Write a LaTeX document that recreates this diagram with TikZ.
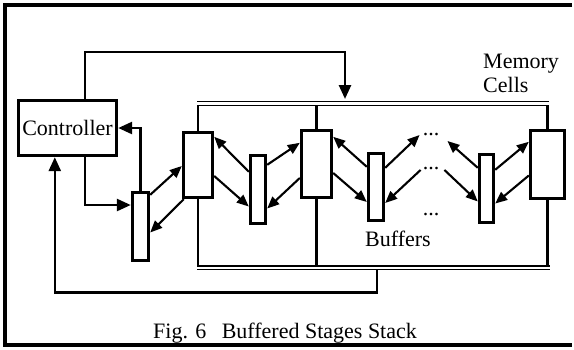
\documentclass[tikz,border=0pt]{standalone}
\usepackage{fontspec}
\setmainfont{Liberation Serif}
\usetikzlibrary{arrows.meta,calc}
\begin{document}
\begin{tikzpicture}[x=1bp,y=-1bp,
  box/.style={draw, line width=3.4bp, inner sep=0pt, fill=white},
  wire/.style={line width=2.6bp},
  arrbig/.style={wire, -{Triangle[length=14bp,width=12bp]}},
  arrsm/.style={line width=2.1bp, -{Triangle[length=12bp,width=10bp]}},
  bus/.style={double, double distance=2.2bp, line width=1.4bp},
  lbl/.style={font=\fontsize{22bp}{26bp}\selectfont, inner sep=0pt},
  frame/.style={line width=3.4bp}]
\useasboundingbox (0,0) rectangle (574,349);
% outer frame (top, left, bottom)
\draw[frame] (572,5) -- (5,5) -- (5,345) -- (572,345);
% boxes
\node[box, lbl, minimum width=98bp, minimum height=55bp] (ctrl) at (67.5,128) {Controller};
\node[box, minimum width=16bp, minimum height=68bp] (B1) at (140.5,226.5) {};
\node[box, minimum width=29bp, minimum height=65bp] (M1) at (198,165) {};
\node[box, minimum width=15bp, minimum height=68bp] (B2) at (258,189.5) {};
\node[box, minimum width=30bp, minimum height=67bp] (M2) at (316.5,164) {};
\node[box, minimum width=15bp, minimum height=67bp] (B3) at (376,187) {};
\node[box, minimum width=14bp, minimum height=68bp] (B4) at (486.5,188.5) {};
\node[box, minimum width=34bp, minimum height=68bp] (M3) at (547.5,164.5) {};
% dots
\node[lbl, anchor=base] (d1) at (431,135) {...};
\node[lbl, anchor=base] (d2) at (431,169) {...};
\node[lbl, anchor=base] (d3) at (431,215) {...};
% buses
\coordinate (busTL) at (197,103.5);
\coordinate (busTR) at (549,103.5);
\coordinate (busBL) at (197,267.75);
\coordinate (busBR) at (550,267.75);
\coordinate (busTin) at (0,105.5);
\coordinate (busBin) at (0,265.8);
\draw[bus] (busTL) -- (busTR);
\draw[bus] (busBL) -- (busBR);
\foreach \m in {M1,M2,M3}{
  \draw[wire] (\m.north) -- (\m.north |- busTin);
  \draw[wire] (\m.south) -- (\m.south |- busBin);
}
% controller connections
\coordinate (feed) at (345,99);
\draw[arrbig] ($(ctrl.north west)+(68,0)$) |- ($(feed)+(0,-47)$) -- (feed);
\draw[arrbig] ($(ctrl.south west)+(68,0)$) |- ($(B1.west)+(0,-21.5)$);
\draw[arrbig] (B1.north) |- (ctrl.east);
\coordinate (tap) at (377,269.8);
\draw[arrbig] (tap) -- ++(0,22.5) -| ($(ctrl.south west)+(38,0)$);
% buffer / cell arrows
\draw[arrsm] ($(B1.north east)+(0,4)$) -- ($(M1.west)+(0,1)$);
\draw[arrsm] ($(M1.south west)+(2,0)$) -- ($(B1.east)+(0,6)$);
\draw[arrsm] ($(B2.north west)+(0,18)$) -- ($(M1.north east)+(0,6)$);
\draw[arrsm] ($(M1.east)+(0,11)$) -- ($(B2.west)+(0,17)$);
\draw[arrsm] ($(B2.north east)+(0,11)$) -- ($(M2.north west)+(0,14)$);
\draw[arrsm] ($(M2.west)+(0,14)$) -- ($(B2.east)+(0,19)$);
\draw[arrsm] ($(B3.north west)+(0,15)$) -- ($(M2.north east)+(0,8)$);
\draw[arrsm] ($(M2.east)+(0,9)$) -- ($(B3.west)+(0,15)$);
\draw[arrsm] ($(B3.north east)+(0,16)$) -- ($(d1.base west)+(-3,0)$);
\draw[arrsm] ($(d2.base west)+(-2,1)$) -- ($(B3.east)+(0,16)$);
\draw[arrsm] ($(B4.north west)+(0,15)$) -- ($(d1.base east)+(8,6)$);
\draw[arrsm] ($(d2.base east)+(5,1)$) -- ($(B4.west)+(0,13)$);
\draw[arrsm] ($(B4.north east)+(0,17)$) -- ($(M3.north west)+(0,13)$);
\draw[arrsm] ($(M3.west)+(0,11)$) -- ($(B4.east)+(0,15)$);
% labels
\node[lbl, anchor=base west] (mem1) at (483,68) {Memory};
\node[lbl, anchor=base west] (mem2) at (483,92) {Cells};
\node[lbl, anchor=base] (buf) at (398,246) {Buffers};
\node[lbl, anchor=base west] (cap) at (153,338) {Fig. 6\hspace{0.45em} Buffered Stages Stack};
\end{tikzpicture}
\end{document}
